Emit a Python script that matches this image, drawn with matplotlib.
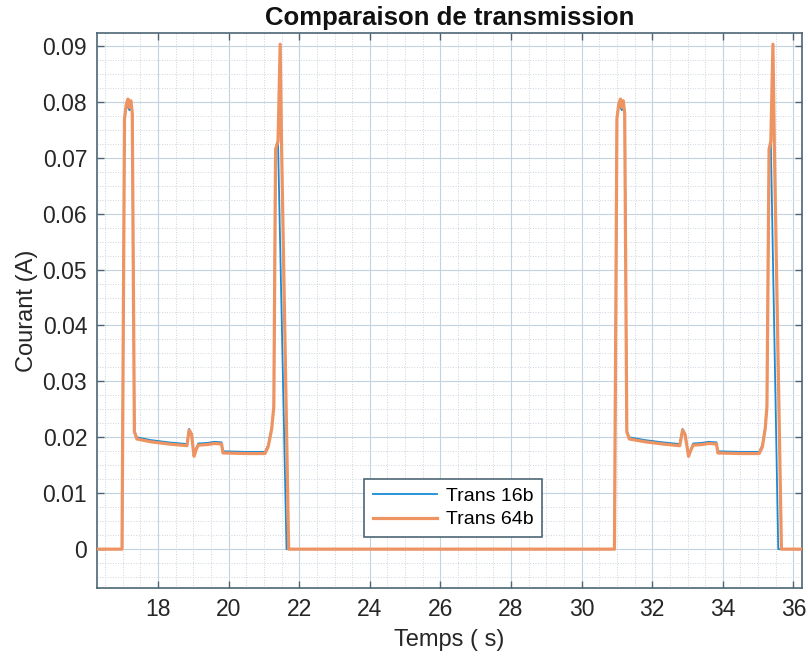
import matplotlib
matplotlib.use("Agg")
import matplotlib.pyplot as plt
from matplotlib.ticker import MultipleLocator

plt.rcParams['font.family'] = ['Liberation Sans', 'DejaVu Sans']

# courant, Trans 16b
t_16 = [16.27, 16.98, 17.05, 17.10, 17.15, 17.19, 17.23, 17.27, 17.33, 17.40,
        17.8, 18.3, 18.82, 18.88, 18.95, 19.02, 19.08, 19.14, 19.4, 19.6,
        19.80, 19.84, 20.5, 21.03, 21.12, 21.22, 21.28, 21.33, 21.40, 21.64,
        30.93, 31.00, 31.05, 31.10, 31.14, 31.18, 31.22, 31.28, 31.35,
        31.8, 32.3, 32.78, 32.86, 32.93, 33.03, 33.10, 33.16, 33.4, 33.6,
        33.82, 33.86, 34.5, 35.03, 35.12, 35.20, 35.25, 35.31, 35.36, 35.57,
        36.23]
i_16 = [0.0, 0.0, 0.077, 0.0795, 0.0790, 0.0785, 0.0792, 0.0780, 0.0212, 0.0200,
        0.0195, 0.0191, 0.0188, 0.0215, 0.0207, 0.0168, 0.0180, 0.0189, 0.0190, 0.0192,
        0.0191, 0.0175, 0.0174, 0.0174, 0.0186, 0.0218, 0.0255, 0.0715, 0.0726, 0.0,
        0.0, 0.077, 0.0795, 0.0790, 0.0785, 0.0792, 0.0780, 0.0212, 0.0200,
        0.0195, 0.0191, 0.0188, 0.0215, 0.0207, 0.0168, 0.0180, 0.0189, 0.0190, 0.0192,
        0.0191, 0.0175, 0.0174, 0.0174, 0.0186, 0.0218, 0.0255, 0.0715, 0.0726, 0.0,
        0.0]

# Trans 64b
t_64 = [16.27, 16.98, 17.05, 17.10, 17.15, 17.19, 17.23, 17.27, 17.33, 17.40,
        17.8, 18.3, 18.82, 18.88, 18.95, 19.02, 19.08, 19.14, 19.4, 19.6,
        19.80, 19.84, 20.5, 21.03, 21.12, 21.22, 21.28, 21.33, 21.40, 21.46,
        21.50, 21.70,
        30.93, 31.00, 31.05, 31.10, 31.14, 31.18, 31.22, 31.28, 31.35,
        31.8, 32.3, 32.78, 32.86, 32.93, 33.03, 33.10, 33.16, 33.4, 33.6,
        33.82, 33.86, 34.5, 35.03, 35.12, 35.20, 35.25, 35.31, 35.36, 35.42,
        35.46, 35.66, 36.23]
i_64 = [0.0, 0.0, 0.077, 0.0795, 0.0805, 0.0790, 0.0802, 0.0780, 0.0210, 0.0197,
        0.0192, 0.0188, 0.0185, 0.0213, 0.0205, 0.0166, 0.0178, 0.0186, 0.0187, 0.0189,
        0.0188, 0.0172, 0.0171, 0.0171, 0.0183, 0.0215, 0.0255, 0.0715, 0.0730, 0.0903,
        0.0720, 0.0,
        0.0, 0.077, 0.0795, 0.0805, 0.0790, 0.0802, 0.0780, 0.0210, 0.0197,
        0.0192, 0.0188, 0.0185, 0.0213, 0.0205, 0.0166, 0.0178, 0.0186, 0.0187, 0.0189,
        0.0188, 0.0172, 0.0171, 0.0171, 0.0183, 0.0215, 0.0255, 0.0715, 0.0730, 0.0903,
        0.0720, 0.0, 0.0]

xticks = [18, 20, 22, 24, 26, 28, 30, 32, 34, 36]
yticks = [0, 0.01, 0.02, 0.03, 0.04, 0.05, 0.06, 0.07, 0.08, 0.09]
ytick_labels = ['0', '0.01', '0.02', '0.03', '0.04', '0.05', '0.06', '0.07', '0.08', '0.09']

edge = '#4d6575'

fig = plt.figure(figsize=(8.08, 6.61), dpi=100)
ax = fig.add_axes([0.120, 0.110, 0.872, 0.840])

ax.plot(t_16, i_16, color='#1a8ad4', lw=1.3, label='Trans 16b', zorder=2)
ax.plot(t_64, i_64, color='#ee9462', lw=2.3, label='Trans 64b', zorder=3)

ax.set_xlim(16.27, 36.23)
ax.set_ylim(-0.007, 0.0923)
ax.set_xticks(xticks)
ax.set_xticklabels([str(v) for v in xticks])
ax.set_yticks(yticks)
ax.set_yticklabels(ytick_labels)
ax.xaxis.set_minor_locator(MultipleLocator(0.5))
ax.yaxis.set_minor_locator(MultipleLocator(0.0025))

ax.grid(which='major', color='#c4d2de', lw=0.8)
ax.grid(which='minor', color='#cbd5de', lw=0.7, ls=':')
ax.set_axisbelow(True)

ax.tick_params(which='major', direction='in', length=5, width=1, color=edge,
               top=True, right=True, labelsize=16.5, labelcolor='#262626', pad=7)
ax.tick_params(which='minor', length=0, top=True, right=True)
for s in ax.spines.values():
    s.set_color(edge)
    s.set_linewidth(1.2)

ax.set_title('Comparaison de transmission', fontsize=18.5, fontweight='bold',
             color='#111111', pad=6)
ax.set_xlabel('Temps ( s)', fontsize=17, color='#262626', labelpad=6)
ax.set_ylabel('Courant (A)', fontsize=17, color='#262626', labelpad=3)

leg = ax.legend(loc='lower left', bbox_to_anchor=(0.379, 0.092), borderaxespad=0,
                fontsize=14, handlelength=3.3, handletextpad=0.45,
                fancybox=False, framealpha=1, borderpad=0.45, labelspacing=0.3)
leg.get_frame().set_edgecolor(edge)
leg.get_frame().set_linewidth(1.2)

fig.savefig('out.png', dpi=100)
